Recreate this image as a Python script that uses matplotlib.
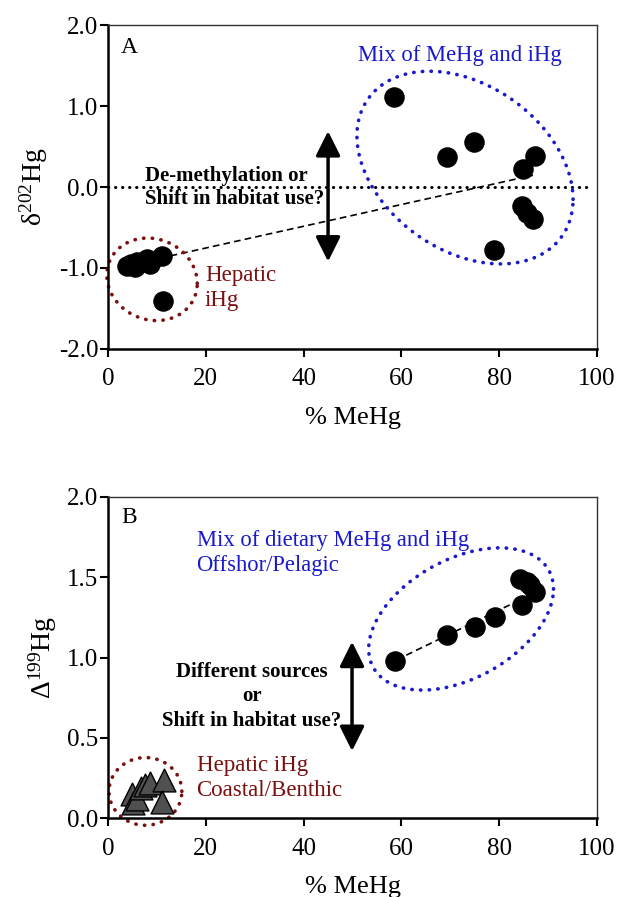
import numpy as np
import matplotlib
matplotlib.use("Agg")
import matplotlib.pyplot as plt

plt.rcParams['font.family'] = ['Liberation Serif', 'DejaVu Serif']
plt.rcParams['mathtext.fontset'] = 'custom'
plt.rcParams['mathtext.rm'] = 'Liberation Serif'
plt.rcParams['mathtext.it'] = 'Liberation Serif:italic'

# Panel A: delta202Hg vs % MeHg
a_mehg_hep = [3.9, 4.7, 5.5, 5.9, 7.9, 8.6, 11.0, 11.2]
a_d202_hep = [-0.97, -0.95, -0.99, -0.92, -0.89, -0.95, -0.85, -1.41]
a_mehg_mix = [58.5, 69.3, 74.9, 84.9, 87.3, 84.7, 85.7, 86.9, 79.0]
a_d202_mix = [1.11, 0.37, 0.56, 0.22, 0.38, -0.24, -0.32, -0.40, -0.78]
a_fit_x = [12.8, 86.9]
a_fit_y = [-0.85, 0.145]

# Panel B: Delta199Hg vs % MeHg
b_mehg_hep = [4.85, 5.2, 6.0, 6.7, 7.6, 8.6, 11.4, 11.0]
b_D199_hep = [0.148, 0.093, 0.12, 0.19, 0.205, 0.216, 0.237, 0.10]
b_mehg_mix = [58.6, 69.4, 75.0, 79.2, 84.6, 84.3, 85.6, 86.3, 87.3]
b_D199_mix = [0.98, 1.14, 1.19, 1.25, 1.33, 1.49, 1.47, 1.45, 1.41]
b_fit_x = [59.0, 86.1]
b_fit_y = [0.985, 1.386]

x_ticks = [0, 20, 40, 60, 80, 100]
a_yticks = [-2.0, -1.0, 0.0, 1.0, 2.0]
b_yticks = [0.0, 0.5, 1.0, 1.5, 2.0]

BLUE = '#1a1acc'
RED = '#7a1010'


def dotted_ellipse(ax, cx, cy, rx, ry, phase, color):
    # ellipse given by its extents and a phase shift between x and y
    t = np.linspace(0, 2 * np.pi, 300)
    xs = cx + rx * np.cos(t)
    ys = cy + ry * np.cos(t - phase)
    ax.plot(xs, ys, color=color, lw=2.6, linestyle=(0, (0.1, 2.3)),
            dash_capstyle='round', clip_on=False, zorder=2)


def double_arrow(ax, x, y0, y1):
    ax.annotate('', xy=(x, y1), xytext=(x, y0),
                arrowprops=dict(arrowstyle='<|-|>,head_length=1.0,head_width=0.5',
                                lw=2.5, color='black', shrinkA=0, shrinkB=0,
                                mutation_scale=15))


def style_axes(ax, yticks, fmt):
    ax.set_xlim(0, 100)
    ax.set_xticks(x_ticks)
    ax.set_yticks(yticks)
    ax.set_yticklabels([fmt % v for v in yticks])
    for s in ['left', 'bottom']:
        ax.spines[s].set_linewidth(1.8)
    for s in ['top', 'right']:
        ax.spines[s].set_linewidth(1.0)
        ax.spines[s].set_color('#333333')
    ax.tick_params(direction='out', length=6, width=1.5, labelsize=18)
    ax.tick_params(axis='y', pad=1)
    ax.tick_params(axis='x', pad=8)
    ax.set_xlabel('% MeHg', fontsize=19, labelpad=12)


fig = plt.figure(figsize=(6.19, 8.97), dpi=100)
axA = fig.add_axes([0.1745, 0.611, 0.79, 0.361])
axB = fig.add_axes([0.1745, 0.088, 0.79, 0.358])

# ---- Panel A
axA.set_ylim(-2.0, 2.0)
style_axes(axA, a_yticks, '%.1f')
axA.set_ylabel(r'$\mathrm{\delta^{202}Hg}$', fontsize=20, labelpad=6)
axA.plot([0, 99], [0, 0], color='black', lw=2.2, linestyle=(0, (0.1, 2.2)),
         dash_capstyle='round', zorder=1)
axA.plot(a_fit_x, a_fit_y, color='black', lw=1.2, linestyle=(0, (4, 2.5)), zorder=1)
axA.scatter(a_mehg_hep + a_mehg_mix, a_d202_hep + a_d202_mix, s=190,
            color='black', zorder=3)
dotted_ellipse(axA, 73.0, 0.24, 22.1, 1.19, np.arccos(-0.33), BLUE)
dotted_ellipse(axA, 9.0, -1.14, 9.25, 0.51, np.arccos(-0.1), RED)
double_arrow(axA, 45.0, -0.92, 0.69)
axA.text(7.5, 0.0, 'De-methylation or\nShift in habitat use?', fontsize=15,
         fontweight='bold', ha='left', va='center', linespacing=1.2)
axA.text(72.0, 1.62, 'Mix of MeHg and iHg', color=BLUE, fontsize=16.3,
         ha='center', va='center')
axA.text(19.8, -1.09, 'Hepatic', color=RED, fontsize=16.5, ha='left', va='center')
axA.text(19.8, -1.40, 'iHg', color=RED, fontsize=16.5, ha='left', va='center')
axA.text(4.3, 1.72, 'A', fontsize=17, ha='center', va='center')

# ---- Panel B
axB.set_ylim(0.0, 2.0)
style_axes(axB, b_yticks, '%.1f')
axB.set_ylabel(r'$\mathrm{\Delta^{199}Hg}$', fontsize=20, labelpad=6)
axB.plot(b_fit_x, b_fit_y, color='black', lw=1.2, linestyle=(0, (4, 2.5)), zorder=1)
axB.scatter(b_mehg_mix, b_D199_mix, s=190, color='black', zorder=3)
axB.scatter(b_mehg_hep, b_D199_hep, s=270, marker='^', color='#505050',
            edgecolors='black', linewidths=1.0, zorder=3)
dotted_ellipse(axB, 72.2, 1.24, 18.9, 0.443, np.arccos(0.42), BLUE)
dotted_ellipse(axB, 7.65, 0.166, 7.45, 0.211, np.arccos(0.0), RED)
double_arrow(axB, 49.9, 0.418, 1.098)
axB.text(29.4, 0.758, 'Different sources\nor\nShift in habitat use?', fontsize=15,
         fontweight='bold', ha='center', va='center', linespacing=1.3)
axB.text(18.1, 1.726, 'Mix of dietary MeHg and iHg', color=BLUE, fontsize=16.3,
         ha='left', va='center')
axB.text(18.1, 1.57, 'Offshor/Pelagic', color=BLUE, fontsize=16.3,
         ha='left', va='center')
axB.text(18.1, 0.325, 'Hepatic iHg', color=RED, fontsize=16.5, ha='left', va='center')
axB.text(18.1, 0.171, 'Coastal/Benthic', color=RED, fontsize=16.5, ha='left', va='center')
axB.text(4.3, 1.87, 'B', fontsize=17, ha='center', va='center')

fig.savefig('out.png', dpi=100)
